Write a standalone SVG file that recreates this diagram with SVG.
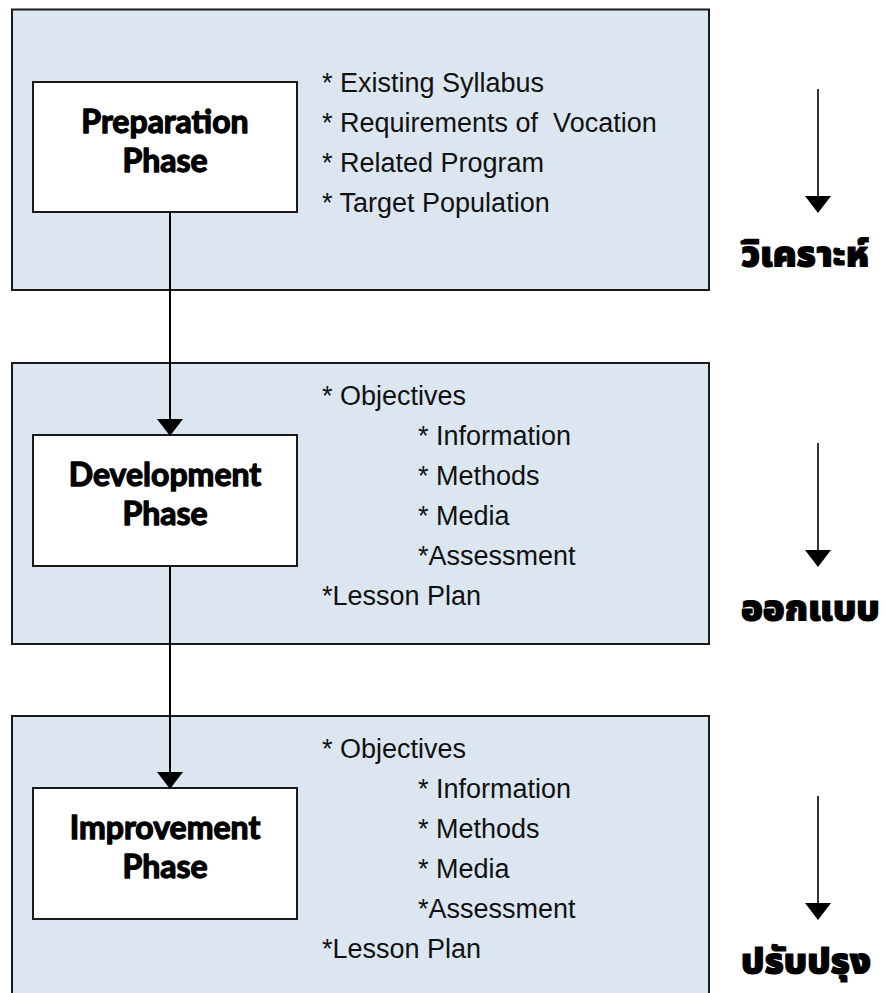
<svg xmlns="http://www.w3.org/2000/svg" width="884" height="993" viewBox="0 0 884 993">
  <defs>
    <style>
      .phase { fill: #dce6f1; stroke: #1a1a1a; stroke-width: 2; }
      .node { fill: #ffffff; stroke: #1a1a1a; stroke-width: 2; }
      .title { font-family: "Lato", "Liberation Sans", sans-serif; font-weight: 700; font-size: 32px; fill: #000; stroke: #000; stroke-width: 1.3; stroke-linejoin: round; text-anchor: middle; }
      .item { font-family: "Liberation Sans", Arial, sans-serif; font-size: 27px; fill: #111; }
      .thai { font-family: "Noto Sans Thai", "Noto Sans", "DejaVu Sans", sans-serif; font-weight: 900; font-size: 36px; fill: #000; stroke: #000; stroke-width: 1.2; stroke-linejoin: round; }
      .conn { stroke: #000; stroke-width: 2; fill: none; }
      .side { stroke: #000; stroke-width: 1.6; fill: none; }
    </style>
    <marker id="arrow" markerWidth="17" markerHeight="26" refX="16" refY="13" orient="auto" markerUnits="userSpaceOnUse" viewBox="0 0 17 26">
      <path d="M0,0 L17,13 L0,26 Z" fill="#000"/>
    </marker>
  </defs>

  <rect x="0" y="0" width="884" height="993" fill="#ffffff"/>

  <!-- Phase panels -->
  <g id="panel-analysis">
    <rect class="phase" x="12" y="9.5" width="697" height="280.5"/>
    <text class="item" x="322" y="92">* Existing Syllabus</text>
    <text class="item" x="322" y="132">* Requirements of&#160; Vocation</text>
    <text class="item" x="322" y="172">* Related Program</text>
    <text class="item" x="322" y="212">* Target Population</text>
  </g>
  <g id="panel-design">
    <rect class="phase" x="12" y="363" width="697" height="281"/>
    <text class="item" x="322" y="405">* Objectives</text>
    <text class="item" x="418" y="445">* Information</text>
    <text class="item" x="418" y="485">* Methods</text>
    <text class="item" x="418" y="525">* Media</text>
    <text class="item" x="418" y="565">*Assessment</text>
    <text class="item" x="322" y="605">*Lesson Plan</text>
  </g>
  <g id="panel-improve">
    <rect class="phase" x="12" y="716" width="697" height="300"/>
    <text class="item" x="322" y="758">* Objectives</text>
    <text class="item" x="418" y="798">* Information</text>
    <text class="item" x="418" y="838">* Methods</text>
    <text class="item" x="418" y="878">* Media</text>
    <text class="item" x="418" y="918">*Assessment</text>
    <text class="item" x="322" y="958">*Lesson Plan</text>
  </g>

  <!-- Nodes -->
  <g id="node-preparation">
    <rect class="node" x="33" y="82" width="264" height="130"/>
    <text class="title" x="165" y="133">Preparation</text>
    <text class="title" x="165" y="172">Phase</text>
  </g>
  <g id="node-development">
    <rect class="node" x="33" y="435" width="264" height="131"/>
    <text class="title" x="165" y="486">Development</text>
    <text class="title" x="165" y="525">Phase</text>
  </g>
  <g id="node-improvement">
    <rect class="node" x="33" y="788" width="264" height="131"/>
    <text class="title" x="165" y="839">Improvement</text>
    <text class="title" x="165" y="878">Phase</text>
  </g>

  <!-- Side labels -->
  <g id="label-analysis">
    <text class="thai" x="741" y="266">วิเคราะห์</text>
  </g>
  <g id="label-design">
    <text class="thai" x="741" y="620">ออกแบบ</text>
  </g>
  <g id="label-improve">
    <text class="thai" x="741" y="973">ปรับปรุง</text>
  </g>

  <!-- Connectors -->
  <g id="connectors">
    <line class="conn" x1="170" y1="212" x2="170" y2="435" marker-end="url(#arrow)"/>
    <line class="conn" x1="170" y1="566" x2="170" y2="788" marker-end="url(#arrow)"/>
    <line class="side" x1="818" y1="89" x2="818" y2="212" marker-end="url(#arrow)"/>
    <line class="side" x1="818" y1="443" x2="818" y2="566" marker-end="url(#arrow)"/>
    <line class="side" x1="818" y1="796" x2="818" y2="919" marker-end="url(#arrow)"/>
  </g>
</svg>
